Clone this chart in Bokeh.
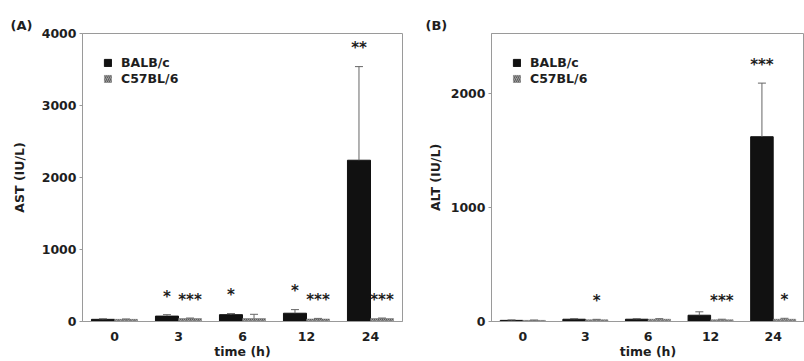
from bokeh.plotting import figure
from bokeh.models import ColumnDataSource, FactorRange, Range1d, FixedTicker
from bokeh.layouts import row
from bokeh.transform import dodge
from bokeh.core.properties import value
from bokeh.embed import file_html
from bokeh.resources import INLINE

times = ["0", "3", "6", "12", "24"]
series = ["BALB/c", "C57BL/6"]

ast_balb = [30, 75, 95, 115, 2240]
ast_balb_err = [8, 20, 15, 50, 1300]
ast_c57 = [30, 40, 40, 35, 40]
ast_c57_err = [5, 8, 60, 8, 8]
ast_sig_balb = ["", "*", "*", "*", "**"]
ast_sig_c57 = ["", "***", "", "***", "***"]

alt_balb = [10, 20, 20, 55, 1620]
alt_balb_err = [4, 5, 5, 30, 470]
alt_c57 = [10, 15, 20, 15, 20]
alt_c57_err = [3, 4, 5, 5, 8]
alt_sig_balb = ["", "", "", "", "***"]
alt_sig_c57 = ["", "*", "", "***", "*"]

ast_ticks = [0, 1000, 2000, 3000, 4000]
alt_ticks = [0, 1000, 2000]

FONT = "DejaVu Sans"
TXT = "#1e1e1e"
GRID = "#9a9a9a"
BAR1 = "#111111"
BAR2 = "#9c9c9c"
OFF = 0.18
W = 0.36


def panel(title, ylabel, ymax, ticks, b, be, c, ce, sb, sc, width, left, frame_w,
          title_off, ylab_standoff):
    pad = 0.07 * ymax
    src = ColumnDataSource(dict(
        x=times, b=b, bt=[m + e for m, e in zip(b, be)],
        c=c, ct=[m + e for m, e in zip(c, ce)],
        sb=sb, sc=sc,
        sby=[m + e + pad for m, e in zip(b, be)],
        scy=[m + e + pad for m, e in zip(c, ce)],
    ))
    p = figure(width=width, height=361, x_range=FactorRange(*times, range_padding=0),
               y_range=Range1d(0, ymax), output_backend="svg", toolbar_location=None,
               min_border_left=left, min_border_right=width - left - frame_w,
               min_border_top=33, min_border_bottom=39)
    p.background_fill_color = "white"
    p.border_fill_color = "white"
    p.outline_line_color = GRID
    p.outline_line_width = 1
    p.grid.visible = False

    xb = dodge("x", -OFF, range=p.x_range)
    xc = dodge("x", OFF, range=p.x_range)
    p.vbar(x=xb, top="b", width=W, source=src, fill_color=BAR1, line_color=BAR1,
           legend_label=series[0])
    p.vbar(x=xc, top="c", width=W, source=src, fill_color=BAR2, line_color="#777777",
           line_width=0.5, hatch_pattern="/", hatch_color="#4a4a4a", hatch_scale=4,
           hatch_weight=0.8, legend_label=series[1])
    for xx, y0, y1 in ((xb, "b", "bt"), (xc, "c", "ct")):
        p.segment(x0=xx, x1=xx, y0=y0, y1=y1, source=src, line_color="#666666", line_width=1)
        p.scatter(x=xx, y=y1, source=src, marker="dash", size=8, line_color="#666666",
                  line_width=1)
    for xx, yy, tt in ((xb, "sby", "sb"), (xc, "scy", "sc")):
        p.text(x=xx, y=yy, text=tt, source=src, text_font=value(FONT), text_font_style="bold",
               text_font_size="15px", text_align="center", text_baseline="middle",
               text_color=TXT, y_offset=2)

    p.title.text = title
    p.title.align = "left"
    p.title.offset = title_off
    p.title.standoff = 2
    p.title.text_font = FONT
    p.title.text_font_size = "13px"
    p.title.text_font_style = "bold"
    p.title.text_color = TXT

    xa = p.xaxis[0]
    xa.axis_label = "time (h)"
    xa.major_tick_line_color = None
    xa.minor_tick_line_color = None
    xa.axis_line_color = GRID
    xa.major_label_standoff = 4
    xa.axis_label_standoff = 0
    ya = p.yaxis[0]
    ya.axis_label = ylabel
    ya.ticker = FixedTicker(ticks=ticks)
    ya.major_tick_out = 3
    ya.major_tick_in = 0
    ya.minor_tick_line_color = None
    ya.axis_line_color = GRID
    ya.major_tick_line_color = GRID
    ya.major_label_standoff = 3
    ya.axis_label_standoff = ylab_standoff
    for ax in (xa, ya):
        ax.major_label_text_font = FONT
        ax.major_label_text_font_style = "bold"
        ax.major_label_text_font_size = "12.5px"
        ax.major_label_text_color = TXT
        ax.axis_label_text_font = FONT
        ax.axis_label_text_font_style = "bold"
        ax.axis_label_text_font_size = "12.5px"
        ax.axis_label_text_color = TXT

    lg = p.legend[0]
    lg.location = "top_left"
    lg.margin = 21
    lg.padding = 0
    lg.spacing = 0
    lg.label_height = 16
    lg.glyph_height = 9
    lg.glyph_width = 9
    lg.label_standoff = 9
    lg.border_line_color = None
    lg.background_fill_alpha = 0
    lg.label_text_font = FONT
    lg.label_text_font_style = "bold"
    lg.label_text_font_size = "12.5px"
    lg.label_text_color = TXT
    return p


pA = panel("(A)", "AST (IU/L)", 4000, ast_ticks, ast_balb, ast_balb_err, ast_c57, ast_c57_err,
           ast_sig_balb, ast_sig_c57, 404, 82, 320, -72, 12)
pB = panel("(B)", "ALT (IU/L)", 2525, alt_ticks, alt_balb, alt_balb_err, alt_c57, alt_c57_err,
           alt_sig_balb, alt_sig_c57, 400, 87, 313, -66, 5)

layout = row(pA, pB)
open("out.html", "w").write(file_html(layout, INLINE))
